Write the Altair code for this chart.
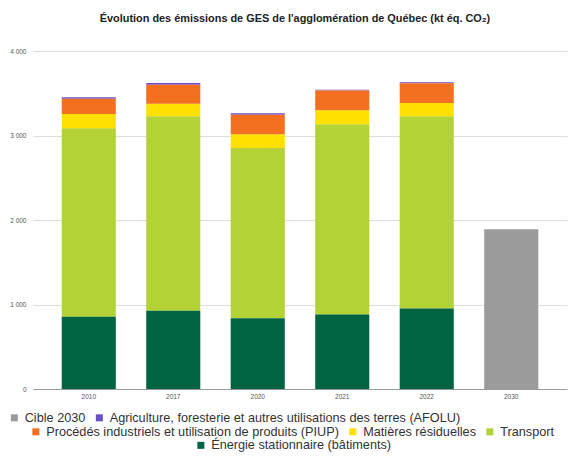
import altair as alt
import pandas as pd

years = ["2010", "2017", "2020", "2021", "2022", "2030"]
series = [
    "Énergie stationnaire (bâtiments)",
    "Transport",
    "Matières résiduelles",
    "Procédés industriels et utilisation de produits (PIUP)",
    "Agriculture, foresterie et autres utilisations des terres (AFOLU)",
    "Cible 2030",
]
colors = ["#006341", "#b2d235", "#ffe000", "#f37021", "#6b4fc4", "#9b9b9b"]

energie = [855, 925, 836, 883, 954, 0]
transport = [2230, 2302, 2016, 2249, 2273, 0]
matieres = [169, 150, 162, 166, 157, 0]
piup = [182, 225, 233, 236, 233, 0]
afolu = [16, 19, 15, 6, 12, 0]
cible = [0, 0, 0, 0, 0, 1891]

values = [energie, transport, matieres, piup, afolu, cible]
rows = []
for si, (name, vals) in enumerate(zip(series, values)):
    for y, v in zip(years, vals):
        rows.append({"year": y, "serie": name, "value": v, "order": si})
df = pd.DataFrame(rows)

groups = [
    (["Cible 2030", "Agriculture, foresterie et autres utilisations des terres (AFOLU)"], -25, 360),
    (["Procédés industriels et utilisation de produits (PIUP)", "Matières résiduelles", "Transport"], -3.5, 374),
    (["Énergie stationnaire (bâtiments)"], 161.5, 388),
]

base = alt.Chart(df).transform_stack(
    stack="value", as_=["y0", "y1"], groupby=["year"],
    sort=[alt.SortField("order", order="ascending")],
)

layers = []
for names, lx, ly in groups:
    rng = [colors[series.index(n)] for n in names]
    layer = base.transform_filter(
        alt.FieldOneOfPredicate(field="serie", oneOf=names)
    ).mark_bar().encode(
        x=alt.X("year:N", sort=years, title=None,
                scale=alt.Scale(paddingInner=0.36, paddingOuter=0.34),
                axis=alt.Axis(labelAngle=0, ticks=False, domainColor="#9a9a9a",
                              labelFontSize=6.5, labelColor="#555555", labelPadding=4,
                              labelFont="Liberation Sans")),
        y=alt.Y("y0:Q", title=None,
                scale=alt.Scale(domain=[0, 4000], nice=False),
                axis=alt.Axis(values=[0, 1000, 2000, 3000, 4000], domain=False, ticks=False,
                              labelFontSize=6.5, labelColor="#555555", labelPadding=7,
                              labelFont="Liberation Sans", gridColor="#dddddd",
                              labelExpr="replace(format(datum.value, ','), ',', ' ')")),
        y2="y1:Q",
        color=alt.Color("serie:N", scale=alt.Scale(domain=names, range=rng),
                        legend=alt.Legend(orient="none", legendX=lx, legendY=ly,
                                          direction="horizontal", columns=len(names),
                                          title=None, symbolType="square", symbolSize=49,
                                          symbolStrokeWidth=0, labelFontSize=12.7,
                                          labelFont="Liberation Sans", labelColor="#333333",
                                          labelOffset=4, columnPadding=7, padding=0,
                                          labelLimit=600)),
    )
    layers.append(layer)

chart = alt.layer(*layers).resolve_scale(color="independent").properties(
    width=534, height=338,
    padding={"left": 0, "top": 4, "right": 5, "bottom": 0},
    title=alt.TitleParams(
        "Évolution des émissions de GES de l'agglomération de Québec (kt éq. CO₂)",
        fontSize=10.9, fontWeight="bold", font="Liberation Sans", color="#222222",
        anchor="middle", frame="group", offset=24.5, dx=-5,
    ),
).configure_view(stroke=None)

chart.save("out.html", embed_options={"renderer": "svg", "actions": False})
